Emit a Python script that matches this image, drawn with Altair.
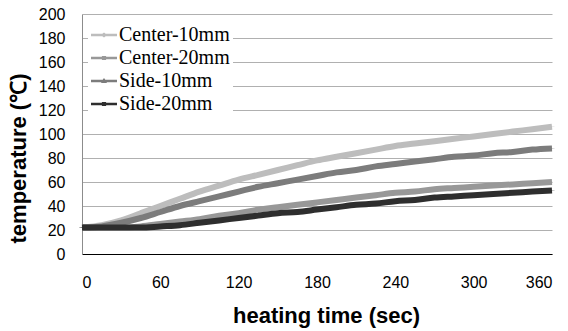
import altair as alt
import pandas as pd

times = [0, 15, 30, 45, 60, 75, 90, 105, 120, 135, 150, 165, 180, 195, 210, 225, 240, 255, 270, 285, 300, 315, 330, 345, 360]
center_10 = [22, 24, 28, 34, 40, 46, 52, 57, 62, 66, 70, 74, 78, 81, 84, 87, 90, 92, 94, 96, 98, 100, 102, 104, 106]
center_20 = [22, 22, 22, 23, 25, 27, 29, 32, 34, 37, 39, 41, 43, 45, 47, 49, 51, 52, 54, 55, 56, 57, 58, 59, 60]
side_10 = [22, 23, 26, 30, 35, 40, 44, 48, 52, 56, 59, 62, 65, 68, 70, 73, 75, 77, 79, 81, 82, 84, 85, 87, 88]
side_20 = [22, 22, 22, 22, 23, 24, 26, 28, 30, 32, 34, 35, 37, 39, 41, 42, 44, 45, 47, 48, 49, 50, 51, 52, 53]

series_names = ["Center-10mm", "Center-20mm", "Side-10mm", "Side-20mm"]
series_values = [center_10, center_20, side_10, side_20]
series_colors = ["#bdbdbd", "#989898", "#7c7c7c", "#2e2e2e"]

y_ticks = list(range(0, 201, 20))
x_ticks = list(range(0, 361, 60))

rows = []
for i, (name, vals) in enumerate(zip(series_names, series_values)):
    for t, v in zip(times, vals):
        rows.append({"time": t, "temp": v, "series": name, "order": i})
df = pd.DataFrame(rows)

legend_shapes = [
    "M-1,-0.04H-0.13L0,-0.13L0.13,-0.04H1V0.04H0.13L0,0.13L-0.13,0.04H-1Z",
    "M-1,-0.04H-0.11V-0.11H0.11V-0.04H1V0.04H0.11V0.11H-0.11V0.04H-1Z",
    "M-1,-0.04H-0.07L0,-0.14L0.07,-0.04H1V0.04H0.11L0.14,0.1H-0.14L-0.11,0.04H-1Z",
    "M-1,-0.04H-0.11V-0.11H0.11V-0.04H1V0.04H0.11V0.11H-0.11V0.04H-1Z",
]

x_axis = alt.Axis(values=x_ticks, title="heating time (sec)", grid=False,
                  ticks=False, domainColor="#000000", domainWidth=1,
                  labelPadding=20, titlePadding=15, titleX=244, labelOverlap=False)
y_axis = alt.Axis(values=y_ticks, title="temperature (℃)", grid=True,
                  gridColor="#b0b0b0", gridWidth=1, ticks=False,
                  domainColor="#8c8c8c", labelPadding=17, titlePadding=8,
                  titleY=144, labelOverlap=False)
x_scale = alt.Scale(domain=[0, 360], nice=False)
y_scale = alt.Scale(domain=[0, 200], nice=False)
color_scale = alt.Scale(domain=series_names, range=series_colors)

legend_props = dict(title=None, orient="none", legendX=6, legendY=5,
                    fillColor="white", padding=3,
                    labelFont="Liberation Serif", labelFontSize=20,
                    labelColor="#000000", symbolSize=600,
                    rowPadding=0, labelOffset=2)

legend_layer = alt.Chart(df).mark_point(filled=True, opacity=1, size=25).encode(
    x=alt.X("time:Q", scale=x_scale, axis=x_axis),
    y=alt.Y("temp:Q", scale=y_scale, axis=y_axis),
    color=alt.Color("series:N", scale=color_scale, legend=alt.Legend(**legend_props)),
    shape=alt.Shape("series:N", scale=alt.Scale(domain=series_names, range=legend_shapes),
                    legend=alt.Legend(**legend_props)),
)

lines = alt.Chart(df).mark_line(strokeWidth=6, interpolate="monotone").encode(
    x=alt.X("time:Q", scale=x_scale, axis=x_axis),
    y=alt.Y("temp:Q", scale=y_scale, axis=y_axis),
    color=alt.Color("series:N", scale=color_scale, legend=None),
    order=alt.Order("time:Q"),
    detail="order:O",
)

chart = alt.layer(legend_layer, lines).properties(
    width=470, height=240,
    autosize=alt.AutoSizeParams(type="none"),
    padding={"left": 82, "top": 14, "right": 16, "bottom": 77},
).configure_view(stroke=None).configure_axis(
    labelFont="Liberation Sans", labelFontSize=16, labelColor="#000000",
    titleFont="Liberation Sans", titleFontSize=22, titleFontWeight="bold", titleColor="#000000",
)

chart.save("out.html", embed_options={"renderer": "svg", "actions": False})
